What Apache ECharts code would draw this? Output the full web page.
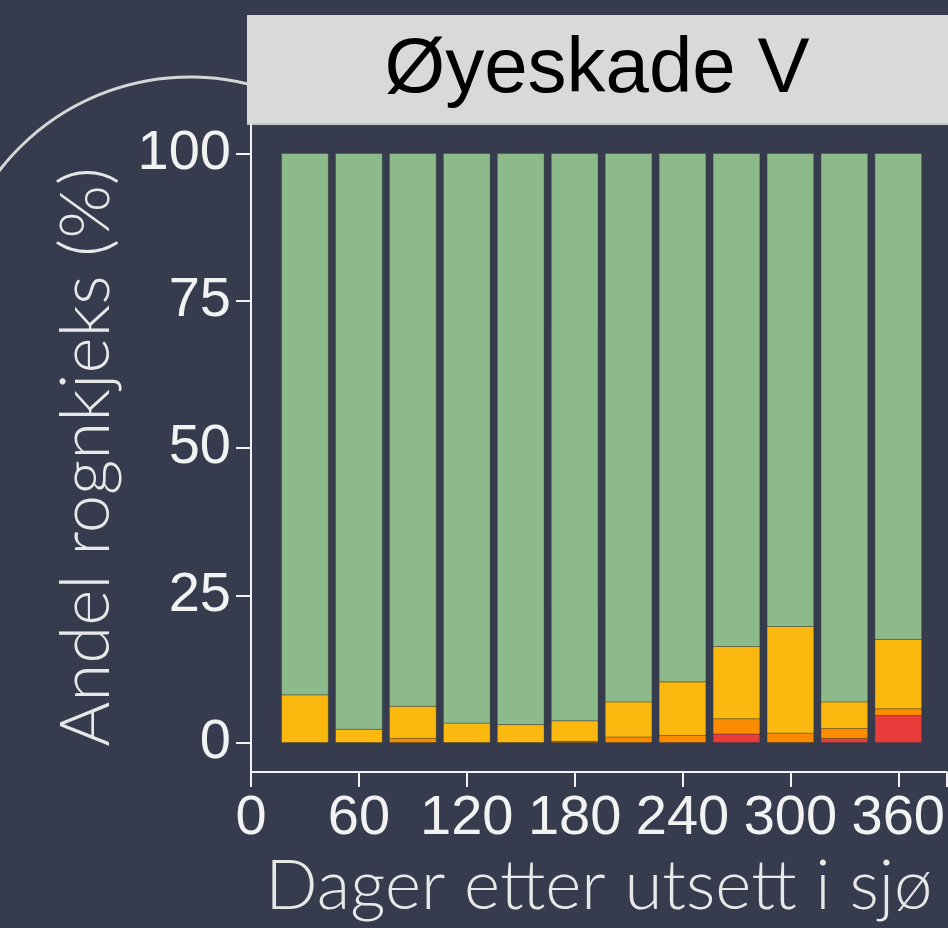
<!DOCTYPE html>
<html>
<head>
<meta charset="utf-8">
<script src="https://cdn.jsdelivr.net/npm/echarts@6/dist/echarts.min.js"></script>
<style>
  html, body { margin: 0; padding: 0; background: #363c4e; }
  #chart { width: 948px; height: 928px; }
</style>
</head>
<body>
<div id="chart"></div>
<script>
// dager etter utsett i sjø
const days = [30, 60, 90, 120, 150, 180, 210, 240, 270, 300, 330, 360]

// andel (%) per skadegrad, lest av figuren (grad3 nederst, grad0 øverst)
const grad3 = [0, 0, 0, 0, 0, 0, 0, 0, 1.45, 0, 0.7, 4.6]
const grad2 = [0, 0, 0.7, 0, 0, 0.2, 0.95, 1.2, 2.6, 1.6, 1.7, 1.15]
const grad1 = [8.1, 2.25, 5.45, 3.3, 3.05, 3.5, 5.95, 9.1, 12.25, 18.1, 4.5, 11.75]
const grad0 = [91.9, 97.75, 93.85, 96.7, 96.95, 96.3, 93.1, 89.7, 83.7, 80.3, 93.1, 82.5]

const xTicks = [0, 60, 120, 180, 240, 300, 360]
const yTicks = [0, 25, 50, 75, 100]

const barDays = 26 // søylebredde i dager

const chart = echarts.init(document.getElementById('chart'))

// stabler søylene selv: [dag, verdi, bunn]
const layers = [grad3, grad2, grad1, grad0]
const colors = ['#e83d3a', '#fb8c00', '#fbb80e', '#8dba8b']
const bases = layers.map((arr, k) =>
  arr.map((_, i) => layers.slice(0, k).reduce((s, a) => s + a[i], 0))
)

const renderBar = (params, api) => {
  const day = api.value(0)
  const v = api.value(1)
  const base = api.value(2)
  if (!v) return
  const p0 = api.coord([day - barDays / 2, base + v])
  const p1 = api.coord([day + barDays / 2, base])
  return {
    type: 'rect',
    shape: { x: p0[0], y: p0[1], width: p1[0] - p0[0], height: p1[1] - p0[1] },
    style: {
      fill: api.visual('color'),
      stroke: 'rgba(50,50,50,0.35)',
      lineWidth: 1
    }
  }
}

const series = layers.map((arr, k) => ({
  name: 'grad' + (3 - k),
  type: 'custom',
  renderItem: renderBar,
  encode: { x: 0, y: 1 },
  itemStyle: { color: colors[k] },
  data: arr.map((v, i) => [days[i], v, bases[k][i]]),
  silent: true
}))

const axisColor = '#f2f2f2'
const titleColor = '#e8e8e8'

chart.setOption({
  backgroundColor: '#363c4e',
  animation: false,
  grid: { left: 251, top: 124, right: 0, bottom: 156 },
  xAxis: {
    type: 'value',
    min: 0,
    max: 387,
    interval: 60,
    axisLine: { show: true, onZero: false, lineStyle: { color: axisColor, width: 2 } },
    axisTick: { show: true, length: 15, lineStyle: { color: axisColor, width: 2 } },
    axisLabel: {
      color: axisColor,
      fontFamily: 'Liberation Sans',
      fontSize: 56,
      margin: 19,
      customValues: xTicks
    },
    splitLine: { show: false },
    name: 'Dager etter utsett i sjø',
    nameLocation: 'middle',
    nameGap: 79,
    nameTextStyle: {
      color: titleColor,
      fontFamily: 'Lato',
      fontWeight: 300,
      fontSize: 69
    }
  },
  yAxis: {
    type: 'value',
    min: -5,
    max: 105,
    axisLine: { show: true, onZero: false, lineStyle: { color: axisColor, width: 2 } },
    axisTick: { show: true, length: 15, customValues: yTicks, lineStyle: { color: axisColor, width: 2 } },
    axisLabel: {
      color: axisColor,
      fontFamily: 'Liberation Sans',
      fontSize: 56,
      margin: 20,
      customValues: yTicks
    },
    splitLine: { show: false },
    name: 'Andel rognkjeks (%)',
    nameLocation: 'middle',
    nameGap: 130,
    nameTextStyle: {
      color: titleColor,
      fontFamily: 'Lato',
      fontWeight: 300,
      fontSize: 69,
      padding: [0, 18, 0, 0]
    }
  },
  graphic: [
    {
      type: 'arc',
      shape: { cx: 190, cy: 318, r: 241, startAngle: -2.65, endAngle: -1.2, clockwise: true },
      style: { fill: 'none', stroke: '#d6d6d6', lineWidth: 3 },
      silent: true
    },
    {
      type: 'rect',
      shape: { x: 247, y: 15, width: 701, height: 108 },
      style: { fill: '#d9d9d9' },
      silent: true
    },
    {
      type: 'line',
      shape: { x1: 247, y1: 124, x2: 948, y2: 124 },
      style: { stroke: '#f4f4f4', lineWidth: 1.5 },
      silent: true
    },
    {
      type: 'text',
      x: 597,
      y: 70,
      style: {
        text: 'Øyeskade V',
        fill: '#000',
        font: '78px "Liberation Sans"',
        textAlign: 'center',
        textVerticalAlign: 'middle'
      },
      silent: true
    }
  ],
  series
})

window.addEventListener('resize', () => chart.resize())
</script>
</body>
</html>
